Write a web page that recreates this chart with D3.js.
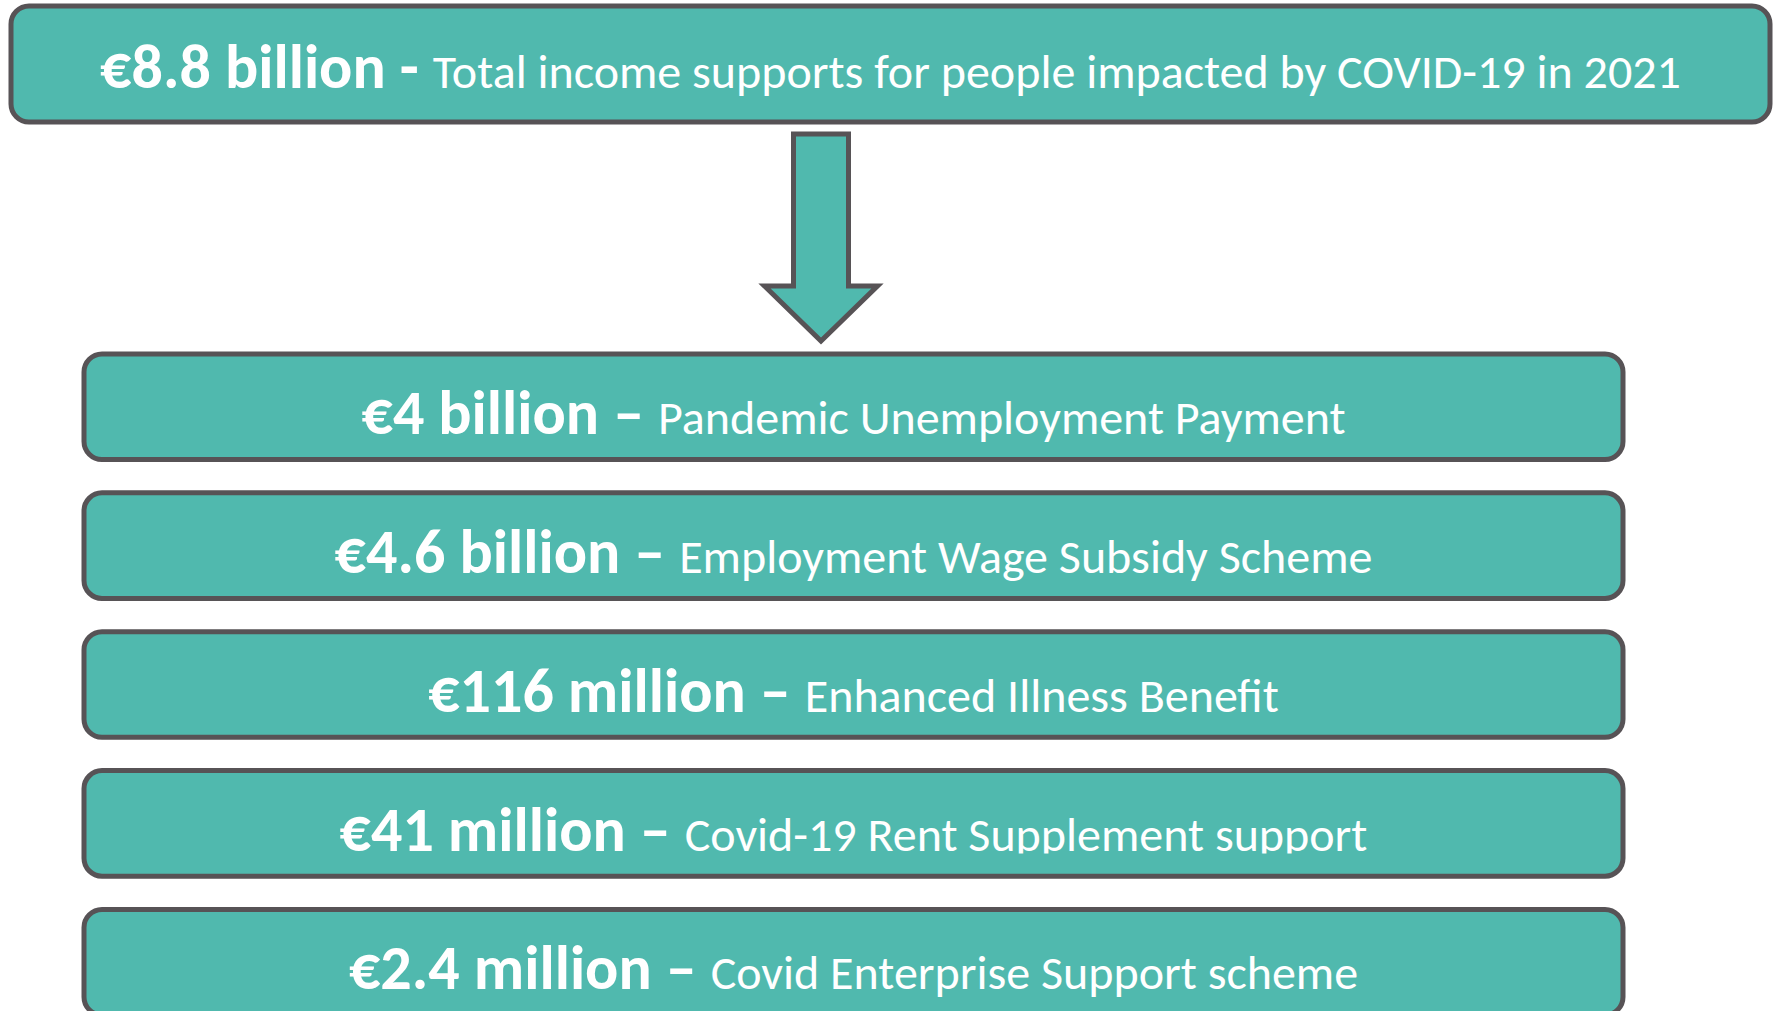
<!DOCTYPE html>
<html>
<head>
<meta charset="utf-8">
<script src="https://cdn.jsdelivr.net/npm/d3@7"></script>
<style>
    html, body { margin: 0; padding: 0; background: #ffffff; overflow: hidden; }
    svg { display: block; }
</style>
</head>
<body>
<div class="chart-container"></div>
<script>
// headline figure
const totalAmount = "€8.8 billion";
const totalLabel = "Total income supports for people impacted by COVID-19 in 2021";

// breakdown by scheme
const amounts = ["€4 billion", "€4.6 billion", "€116 million", "€41 million", "€2.4 million"];
const schemes = [
    "Pandemic Unemployment Payment",
    "Employment Wage Subsidy Scheme",
    "Enhanced Illness Benefit",
    "Covid-19 Rent Supplement support",
    "Covid Enterprise Support scheme"
];

const width = 1777;
const height = 1011;
const fill = "#50b9ae";
const stroke = "#575356";
const fontFamily = "Carlito, Calibri, Lato, sans-serif";
const boldSize = 62;
const regularSize = 48;

const rows = amounts.map((a, i) => ({ amount: a, scheme: schemes[i], index: i }));

const svg = d3.select(".chart-container")
    .append("svg")
    .attr("width", width)
    .attr("height", height);

// top box
const headBox = { x: 11, y: 6, w: 1759, h: 116 };

svg.append("rect")
    .attr("x", headBox.x)
    .attr("y", headBox.y)
    .attr("width", headBox.w)
    .attr("height", headBox.h)
    .attr("rx", 18)
    .attr("fill", fill)
    .attr("stroke", stroke)
    .attr("stroke-width", 5);

const headText = svg.append("text")
    .attr("x", headBox.x + headBox.w / 2)
    .attr("y", headBox.y + 82)
    .attr("text-anchor", "middle")
    .attr("fill", "#ffffff")
    .attr("font-family", fontFamily);

headText.append("tspan")
    .attr("font-weight", "bold")
    .attr("font-size", boldSize)
    .text(`${totalAmount} - `);

headText.append("tspan")
    .attr("font-size", regularSize)
    .text(totalLabel);

// arrow down to the breakdown
const arrow = { cx: 821, top: 134, shaftHalf: 27.5, headY: 286, headHalf: 56.5, tip: 341 };
const arrowPoints = [
    [arrow.cx - arrow.shaftHalf, arrow.top],
    [arrow.cx + arrow.shaftHalf, arrow.top],
    [arrow.cx + arrow.shaftHalf, arrow.headY],
    [arrow.cx + arrow.headHalf, arrow.headY],
    [arrow.cx, arrow.tip],
    [arrow.cx - arrow.headHalf, arrow.headY],
    [arrow.cx - arrow.shaftHalf, arrow.headY]
];

svg.append("path")
    .attr("d", d3.line()(arrowPoints) + "Z")
    .attr("fill", fill)
    .attr("stroke", stroke)
    .attr("stroke-width", 5)
    .attr("stroke-linejoin", "miter");

// one row per scheme
const yScale = d3.scaleBand()
    .domain(amounts)
    .range([354, 1015])
    .paddingInner(0.24)
    .paddingOuter(0);

const xLeft = 84;
const xRight = 1623;
const baselineOffset = 80;
const clippedRow = 3; // descenders of this row get cut by its text frame

svg.append("defs")
    .append("clipPath")
    .attr("id", "row-clip")
    .append("rect")
    .attr("x", xLeft)
    .attr("y", yScale(amounts[clippedRow]))
    .attr("width", xRight - xLeft)
    .attr("height", baselineOffset + 3);

const row = svg.selectAll("g.row")
    .data(rows)
    .join("g")
    .attr("class", "row");

row.append("rect")
    .attr("x", xLeft)
    .attr("y", d => yScale(d.amount))
    .attr("width", xRight - xLeft)
    .attr("height", yScale.bandwidth())
    .attr("rx", 18)
    .attr("fill", fill)
    .attr("stroke", stroke)
    .attr("stroke-width", 5);

const label = row.append("text")
    .attr("x", (xLeft + xRight) / 2)
    .attr("y", d => yScale(d.amount) + baselineOffset)
    .attr("text-anchor", "middle")
    .attr("fill", "#ffffff")
    .attr("font-family", fontFamily)
    .attr("clip-path", d => d.index === clippedRow ? "url(#row-clip)" : null);

label.append("tspan")
    .attr("font-weight", "bold")
    .attr("font-size", boldSize)
    .text(d => `${d.amount} \u2013 `);

label.append("tspan")
    .attr("font-size", regularSize)
    .text(d => d.scheme);
</script>
</body>
</html>
